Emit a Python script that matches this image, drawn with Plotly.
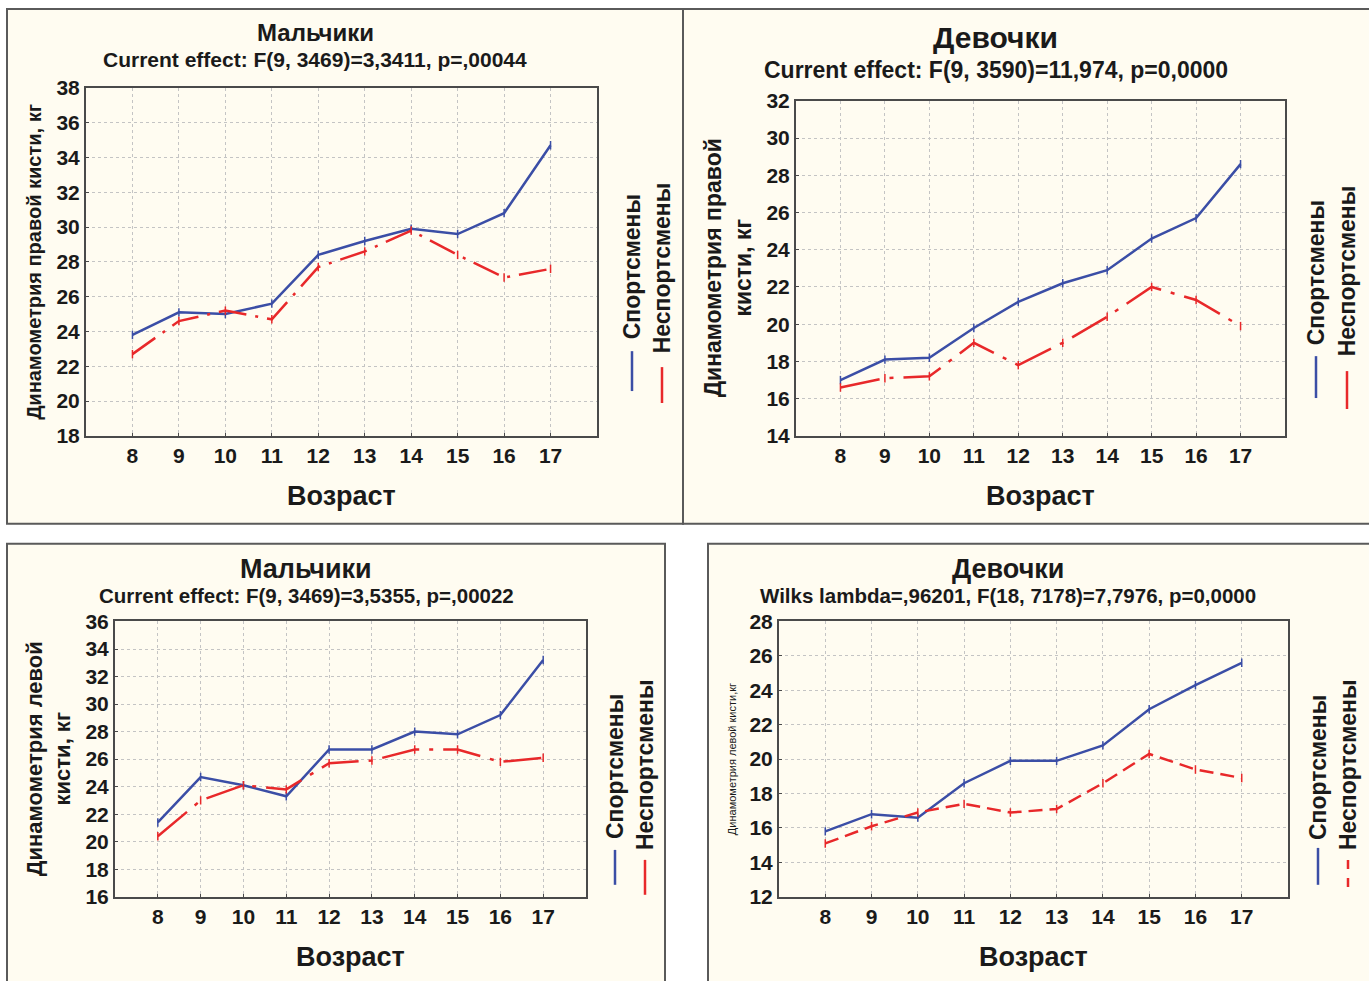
import plotly.graph_objects as go

W, H = 1369, 981

ages = [8, 9, 10, 11, 12, 13, 14, 15, 16, 17]

boys_right_sport = [23.8, 25.1, 25.0, 25.6, 28.4, 29.2, 29.9, 29.6, 30.8, 34.7]
boys_right_non = [22.7, 24.6, 25.2, 24.7, 27.7, 28.6, 29.8, 28.4, 27.1, 27.6]
girls_right_sport = [17.0, 18.1, 18.2, 19.8, 21.2, 22.2, 22.9, 24.6, 25.7, 28.6]
girls_right_non = [16.6, 17.1, 17.2, 19.0, 17.8, 19.0, 20.4, 22.0, 21.3, 19.9]
boys_left_sport = [21.4, 24.7, 24.1, 23.3, 26.7, 26.7, 28.0, 27.8, 29.2, 33.2]
boys_left_non = [20.4, 23.0, 24.1, 23.8, 25.7, 25.9, 26.7, 26.7, 25.8, 26.1]
girls_left_sport = [15.8, 16.8, 16.6, 18.6, 19.9, 19.9, 20.8, 22.9, 24.3, 25.6]
girls_left_non = [15.1, 16.1, 16.9, 17.4, 16.9, 17.1, 18.6, 20.3, 19.4, 18.9]

series_names = ["Спортсмены", "Неспортсмены"]
xlabel = "Возраст"

BLUE = "#3b4ea6"
RED = "#e8282a"
FONT = "Liberation Sans"
BG = "#fffcf1"


def px(x):
    return x / W


def py(y):
    y = (y - 10) / 0.979
    return 1 - y / H


panels = [
    dict(title="Мальчики", tsize=24, ty=31, tcx=315,
         sub="Current effect: F(9, 3469)=3,3411, p=,00044", ssize=21, sy=58,
         ytitle="Динамометрия правой кисти, кг", ytsize=20, ytx=34, ytbold=True,
         sport=boys_right_sport, non=boys_right_non, yr=(18, 38),
         box=(7, 7, 683, 523), dom=(86, 597, 86, 435), dash="28px,9px,3px,9px",
         leg=(632, 662), legtext=(266, 267), legline=((350, 390), (366, 402)),
         xty=495),
    dict(title="Девочки", tsize=30, ty=36, tcx=996,
         sub="Current effect: F(9, 3590)=11,974, p=0,0000", ssize=23, sy=68,
         ytitle="Динамометрия правой<br>кисти, кг", ytsize=23, ytx=728, ytbold=True,
         sport=girls_right_sport, non=girls_right_non, yr=(14, 32),
         box=(683, 7, 1375, 523), dom=(796, 1285, 99, 435), dash="40px,10px,4px,10px",
         leg=(1316, 1347), legtext=(272, 270), legline=((355, 397), (370, 408)),
         xty=495),
    dict(title="Мальчики", tsize=27, ty=568, tcx=306,
         sub="Current effect: F(9, 3469)=3,5355, p=,00022", ssize=20.5, sy=595,
         ytitle="Динамометрия левой<br>кисти, кг", ytsize=22, ytx=49, ytbold=True,
         sport=boys_left_sport, non=boys_left_non, yr=(16, 36),
         box=(7, 543, 665, 1000), dom=(115, 586, 621, 897), dash="38px,10px,4px,10px",
         leg=(615, 645), legtext=(767, 765), legline=((850, 885), (860, 895)),
         xty=957),
    dict(title="Девочки", tsize=27, ty=568, tcx=1008,
         sub="Wilks lambda=,96201, F(18, 7178)=7,7976, p=0,0000", ssize=20.5, sy=595,
         ytitle="Динамометрия левой кисти,кг", ytsize=11, ytx=732, ytbold=False,
         sport=girls_left_sport, non=girls_left_non, yr=(12, 28),
         box=(708, 543, 1375, 1000), dom=(779, 1288, 621, 897), dash="14px,7px",
         leg=(1318, 1348), legtext=(768, 765), legline=((848, 885), (860, 893)),
         xty=957),
]

fig = go.Figure()
shapes = []
annotations = []

for i, p in enumerate(panels):
    n = "" if i == 0 else str(i + 1)
    xa, ya = "x" + n, "y" + n
    x0, y0, x1, y1 = p["box"]
    shapes.append(dict(type="rect", xref="paper", yref="paper",
                       x0=px(x0), x1=px(x1), y0=py(y1), y1=py(y0),
                       fillcolor=BG, line=dict(color="#5a5a5a", width=2),
                       layer="below"))
    fig.add_trace(go.Scatter(x=ages, y=p["sport"], mode="lines+markers",
                             name=series_names[0], showlegend=False,
                             line=dict(color=BLUE, width=2.5),
                             marker=dict(symbol="line-ns-open", size=6,
                                         line=dict(color=BLUE, width=1.5)),
                             xaxis=xa, yaxis=ya))
    fig.add_trace(go.Scatter(x=ages, y=p["non"], mode="lines+markers",
                             name=series_names[1], showlegend=False,
                             line=dict(color=RED, width=2.5, dash=p["dash"]),
                             marker=dict(symbol="line-ns-open", size=6,
                                         line=dict(color=RED, width=1.5)),
                             xaxis=xa, yaxis=ya))
    dx0, dx1, dy0, dy1 = p["dom"]
    axis_common = dict(showline=True, mirror=True, linecolor="#4a4a4a", linewidth=2,
                       showgrid=True, gridcolor="#c4c4c4", griddash="dot", gridwidth=1,
                       zeroline=False, ticks="inside", ticklen=3, tickcolor="#4a4a4a",
                       tickfont=dict(family=FONT, size=21, color="#1a1a1a"),
                       fixedrange=True)
    ytick_vals = list(range(p["yr"][0], p["yr"][1] + 1, 2))
    fig.update_layout(**{
        ("xaxis" + n): dict(domain=[px(dx0), px(dx1)], range=[7, 18],
                            tickvals=ages, ticktext=["<b>%d</b>" % a for a in ages],
                            anchor=ya, **axis_common),
        ("yaxis" + n): dict(domain=[py(dy1), py(dy0)], range=list(p["yr"]),
                            tickvals=ytick_vals,
                            ticktext=["<b>%d</b>" % v for v in ytick_vals],
                            anchor=xa, **axis_common),
    })
    cx = (dx0 + dx1) / 2
    annotations.append(dict(text="<b>%s</b>" % p["title"], x=px(p["tcx"]), y=py(p["ty"]),
                            xref="paper", yref="paper", showarrow=False,
                            xanchor="center", yanchor="middle",
                            font=dict(family=FONT, size=p["tsize"], color="#1a1a1a")))
    annotations.append(dict(text="<b>%s</b>" % p["sub"], x=px(p["tcx"]), y=py(p["sy"]),
                            xref="paper", yref="paper", showarrow=False,
                            xanchor="center", yanchor="middle",
                            font=dict(family=FONT, size=p["ssize"], color="#1a1a1a")))
    annotations.append(dict(text="<b>%s</b>" % xlabel, x=px(cx), y=py(p["xty"]),
                            xref="paper", yref="paper", showarrow=False,
                            xanchor="center", yanchor="middle",
                            font=dict(family=FONT, size=27, color="#1a1a1a")))
    yt = "<b>%s</b>" % p["ytitle"] if p["ytbold"] else p["ytitle"]
    annotations.append(dict(text=yt, x=px(p["ytx"]), y=py((dy0 + dy1) / 2),
                            xref="paper", yref="paper", showarrow=False,
                            textangle=-90, xanchor="center", yanchor="middle",
                            font=dict(family=FONT, size=p["ytsize"], color="#1a1a1a")))
    # legend (vertical, as in the original)
    for k, (lx, color, ldash) in enumerate([(p["leg"][0], BLUE, "solid"),
                                            (p["leg"][1], RED, "dash" if i == 3 else "solid")]):
        ty_text = p["legtext"][k]
        annotations.append(dict(text="<b>%s</b>" % series_names[k], x=px(lx),
                                y=py(ty_text), xref="paper", yref="paper",
                                showarrow=False, textangle=-90,
                                xanchor="center", yanchor="middle",
                                font=dict(family=FONT, size=23, color="#1a1a1a")))
        l0, l1 = p["legline"][k]
        shapes.append(dict(type="line", xref="paper", yref="paper",
                           x0=px(lx), x1=px(lx), y0=py(l0), y1=py(l1),
                           line=dict(color=color, width=2.5, dash=ldash)))

fig.update_layout(width=W, height=H, margin=dict(l=0, r=0, t=0, b=0),
                  paper_bgcolor="white", plot_bgcolor="white",
                  shapes=shapes, annotations=annotations, showlegend=False)

fig.write_html("out.html")
